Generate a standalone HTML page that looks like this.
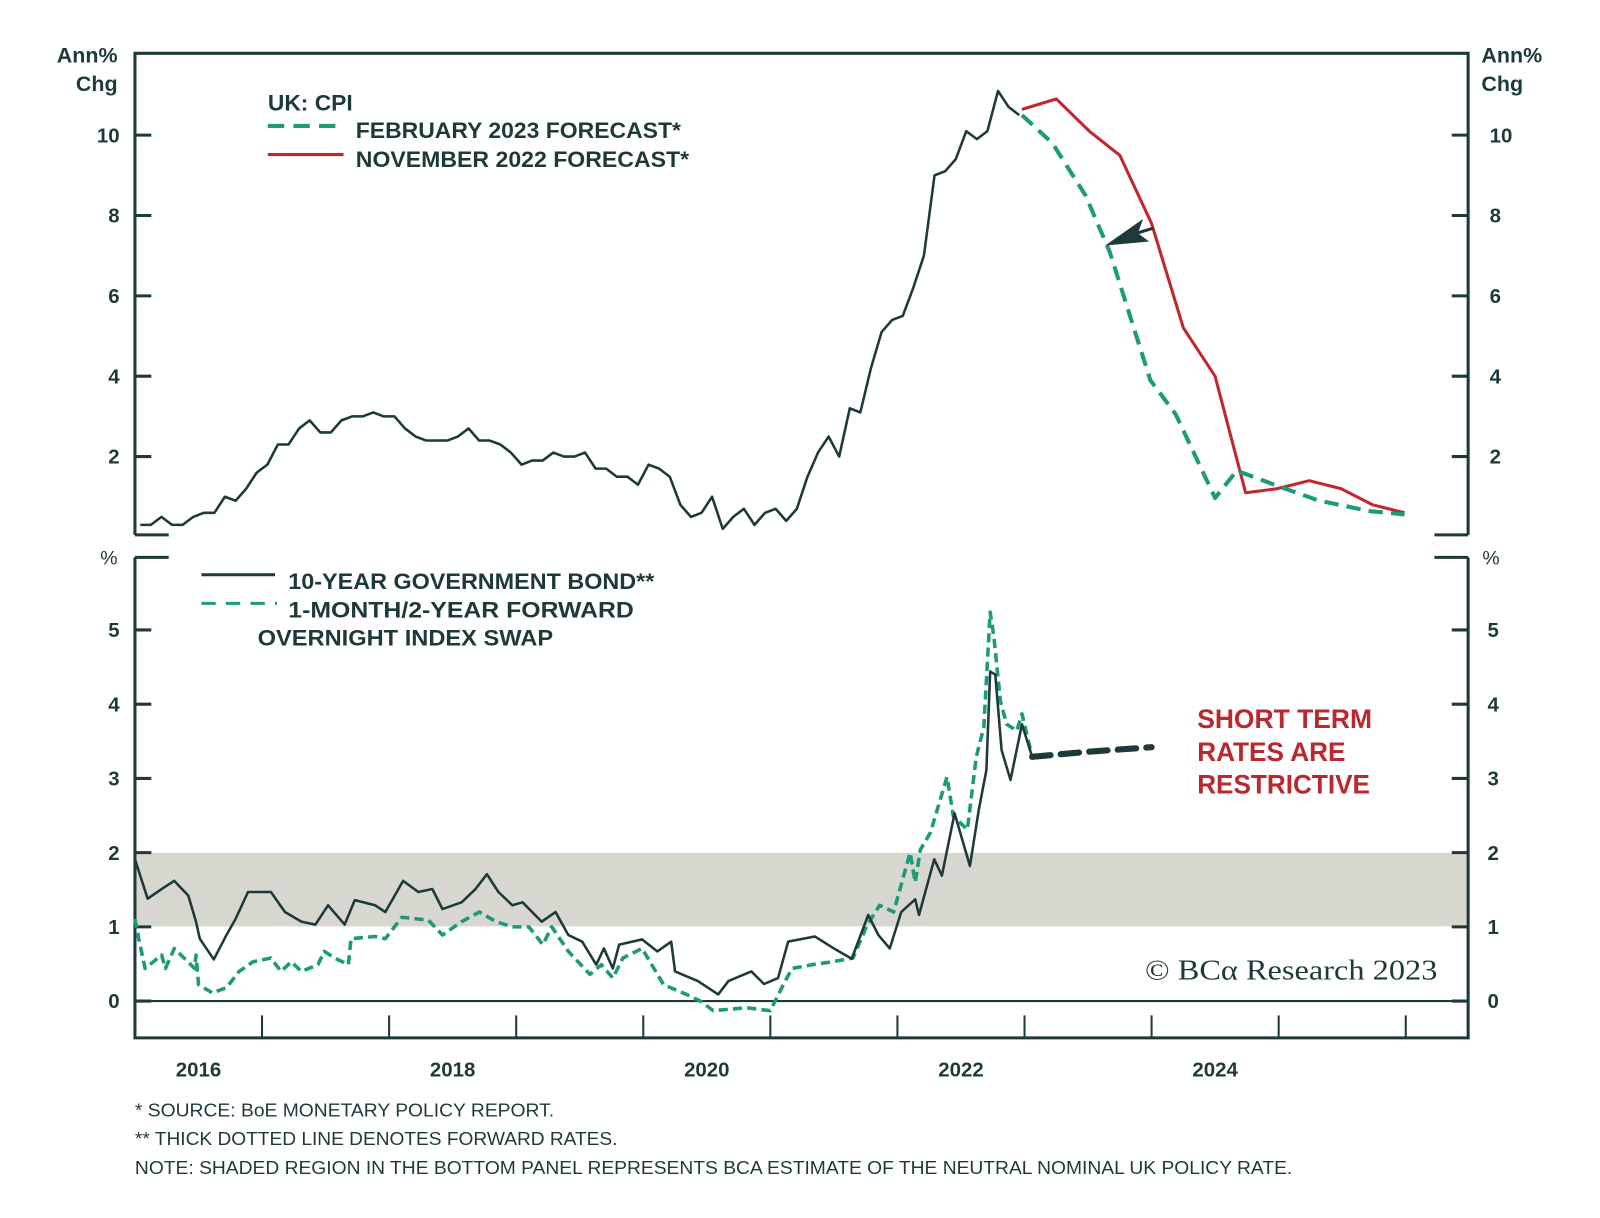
<!DOCTYPE html>
<html><head><meta charset="utf-8">
<style>
html,body{margin:0;padding:0;background:#fff;}
svg{display:block;}
text{font-family:"Liberation Sans",sans-serif;fill:#1d3a39;}
</style></head>
<body>
<svg id="chart" width="1600" height="1218" viewBox="0 0 1565 1191" xmlns="http://www.w3.org/2000/svg">
  <rect x="0" y="0" width="1565" height="1191" fill="#fff"/>
  <rect id="band" x="132" y="834" width="1304" height="72" fill="#d7d7d0"/>
  <g stroke="#1d3a39" stroke-width="3" fill="none">
    <path d="M132 523 V52 H1436 V523"/>
    <path d="M132 523 H165 M1403 523 H1436"/>
  </g>
  <g stroke="#1d3a39" stroke-width="3" fill="none">
    <path d="M132 545 V1015 H1436 V545"/>
    <path d="M132 545 H165 M1403 545 H1436"/>
  </g>
  <line x1="132" y1="979" x2="1436" y2="979" stroke="#1d3a39" stroke-width="2"/>
  <g id="topTicks"></g>
  <g id="botTicks"></g>
  <g id="yearTicks"></g>
  <g id="series"></g>

  <text x="115" y="61" text-anchor="end" font-size="21" font-weight="bold">Ann%</text>
  <text x="115" y="89" text-anchor="end" font-size="21" font-weight="bold">Chg</text>
  <text x="1449" y="61" font-size="21" font-weight="bold">Ann%</text>
  <text x="1449" y="89" font-size="21" font-weight="bold">Chg</text>
  <text x="115" y="552" text-anchor="end" font-size="19">%</text>
  <text x="1450" y="552" font-size="19">%</text>

  <g font-weight="bold">
    <text x="262" y="108" font-size="22" textLength="83" lengthAdjust="spacingAndGlyphs">UK: CPI</text>
    <line x1="262" y1="123" x2="336" y2="123" stroke="#1b9b78" stroke-width="4" stroke-dasharray="16,9"/>
    <text x="348" y="135" font-size="22" textLength="318" lengthAdjust="spacingAndGlyphs">FEBRUARY 2023 FORECAST*</text>
    <line x1="262" y1="151" x2="336" y2="151" stroke="#c0282e" stroke-width="3"/>
    <text x="348" y="163" font-size="22" textLength="326" lengthAdjust="spacingAndGlyphs">NOVEMBER 2022 FORECAST*</text>
  </g>
  <g font-weight="bold">
    <line x1="197" y1="562" x2="269" y2="562" stroke="#1d3a39" stroke-width="3"/>
    <text x="282" y="576" font-size="22" textLength="358" lengthAdjust="spacingAndGlyphs">10-YEAR GOVERNMENT BOND**</text>
    <line x1="197" y1="590" x2="271" y2="590" stroke="#1b9b78" stroke-width="3" stroke-dasharray="14,10"/>
    <text x="282" y="604" font-size="22" textLength="338" lengthAdjust="spacingAndGlyphs">1-MONTH/2-YEAR FORWARD</text>
    <text x="252" y="631" font-size="22" textLength="289" lengthAdjust="spacingAndGlyphs">OVERNIGHT INDEX SWAP</text>
  </g>

  <g font-size="26" font-weight="bold">
    <text x="1171" y="712" style="fill:#b8282e" textLength="171" lengthAdjust="spacingAndGlyphs">SHORT TERM</text>
    <text x="1171" y="744" style="fill:#b8282e" textLength="145" lengthAdjust="spacingAndGlyphs">RATES ARE</text>
    <text x="1171" y="776" style="fill:#b8282e" textLength="169" lengthAdjust="spacingAndGlyphs">RESTRICTIVE</text>
  </g>
  <text x="1120" y="958" font-size="28" style="font-family:'Liberation Serif',serif" textLength="286" lengthAdjust="spacingAndGlyphs">© BCα Research 2023</text>

  <g>
    <line x1="1128" y1="223" x2="1105" y2="230" stroke="#1d3a39" stroke-width="3"/>
    <polygon points="1081,240 1118,214 1113,228 1124,236" fill="#1d3a39"/>
  </g>

  <g id="yearLabels"></g>

  <g font-size="18">
    <text x="132" y="1092" textLength="410" lengthAdjust="spacingAndGlyphs">*  SOURCE: BoE MONETARY POLICY REPORT.</text>
    <text x="132" y="1120" textLength="472" lengthAdjust="spacingAndGlyphs">** THICK DOTTED LINE DENOTES FORWARD RATES.</text>
    <text x="132" y="1148" textLength="1132" lengthAdjust="spacingAndGlyphs">NOTE: SHADED REGION IN THE BOTTOM PANEL REPRESENTS BCA ESTIMATE OF THE NEUTRAL NOMINAL UK POLICY RATE.</text>
  </g>
</svg>
<script>
const cpiStart = 2016;
const cpiMonthly = [0.3,0.3,0.5,0.3,0.3,0.5,0.6,0.6,1.0,0.9,1.2,1.6,
  1.8,2.3,2.3,2.7,2.9,2.6,2.6,2.9,3.0,3.0,3.1,3.0,
  3.0,2.7,2.5,2.4,2.4,2.4,2.5,2.7,2.4,2.4,2.3,2.1,
  1.8,1.9,1.9,2.1,2.0,2.0,2.1,1.7,1.7,1.5,1.5,1.3,
  1.8,1.7,1.5,0.8,0.5,0.6,1.0,0.2,0.5,0.7,0.3,0.6,
  0.7,0.4,0.7,1.5,2.1,2.5,2.0,3.2,3.1,4.2,5.1,5.4,
  5.5,6.2,7.0,9.0,9.1,9.4,10.1,9.9,10.1,11.1,10.7,10.5];
const febDates = [2022.98,2023.22,2023.48,2023.67,2023.83,2023.99,2024.19,2024.5,2024.67,2024.99,2025.32,2025.72,2025.99];
const febValues = [10.5,9.8,8.5,7.1,5.5,3.9,3.05,0.97,1.65,1.27,0.9,0.64,0.56];
const novDates = [2022.98,2023.25,2023.51,2023.75,2024.0,2024.25,2024.5,2024.74,2024.99,2025.24,2025.49,2025.74,2025.99];
const novValues = [10.64,10.9,10.1,9.5,7.8,5.2,4.0,1.1,1.2,1.4,1.2,0.8,0.6];
const bondDates = [2016.0,2016.1,2016.21,2016.31,2016.42,2016.48,2016.51,2016.62,2016.72,2016.79,2016.89,2017.07,2017.18,2017.31,2017.42,2017.52,2017.65,2017.73,2017.89,2017.97,2018.11,2018.23,2018.34,2018.42,2018.57,2018.68,2018.77,2018.86,2018.97,2019.05,2019.2,2019.31,2019.41,2019.52,2019.63,2019.69,2019.76,2019.81,2019.99,2020.11,2020.22,2020.25,2020.43,2020.59,2020.67,2020.85,2020.95,2021.06,2021.14,2021.35,2021.5,2021.64,2021.77,2021.85,2021.94,2022.03,2022.14,2022.17,2022.29,2022.35,2022.45,2022.57,2022.64,2022.7,2022.73,2022.77,2022.82,2022.89,2022.98,2023.06];
const bondValues = [1.91,1.38,1.51,1.62,1.42,1.07,0.84,0.56,0.89,1.1,1.47,1.47,1.2,1.07,1.03,1.29,1.03,1.36,1.29,1.2,1.62,1.47,1.51,1.24,1.33,1.51,1.71,1.47,1.29,1.33,1.07,1.2,0.89,0.8,0.49,0.71,0.44,0.76,0.83,0.67,0.8,0.4,0.27,0.09,0.27,0.4,0.23,0.31,0.8,0.87,0.71,0.57,1.16,0.89,0.71,1.2,1.37,1.16,1.91,1.69,2.53,1.82,2.58,3.11,4.44,4.4,3.38,2.98,3.73,3.29];
const bondFwdDates = [2023.06,2023.5,2024.0];
const bondFwdValues = [3.29,3.36,3.42];
const oisDates = [2016.0,2016.03,2016.08,2016.21,2016.24,2016.31,2016.47,2016.48,2016.5,2016.61,2016.72,2016.82,2016.93,2017.07,2017.15,2017.23,2017.31,2017.44,2017.49,2017.57,2017.68,2017.7,2017.89,2017.97,2018.1,2018.31,2018.42,2018.57,2018.71,2018.84,2018.97,2019.1,2019.21,2019.28,2019.41,2019.58,2019.67,2019.76,2019.84,2019.99,2020.16,2020.34,2020.45,2020.55,2020.81,2021.0,2021.09,2021.17,2021.33,2021.49,2021.65,2021.76,2021.86,2021.97,2022.1,2022.14,2022.18,2022.26,2022.39,2022.44,2022.55,2022.62,2022.68,2022.73,2022.76,2022.81,2022.86,2022.94,2022.98,2023.06];
const oisValues = [1.11,0.84,0.44,0.62,0.44,0.71,0.44,0.62,0.22,0.11,0.18,0.4,0.53,0.58,0.4,0.53,0.4,0.49,0.67,0.58,0.49,0.84,0.87,0.84,1.13,1.09,0.89,1.07,1.2,1.07,1.0,1.0,0.76,1.0,0.67,0.36,0.49,0.31,0.58,0.71,0.22,0.09,0.0,-0.13,-0.09,-0.13,0.18,0.44,0.49,0.53,0.58,1.02,1.29,1.2,2.0,1.6,2.04,2.27,3.02,2.49,2.31,3.29,3.69,5.24,4.89,4.04,3.73,3.64,3.87,3.29];
const topTickValues = [2,4,6,8,10];
const botTickValues = [0,1,2,3,4,5];
const yearTickYears = [2017,2018,2019,2020,2021,2022,2023,2024,2025,2026];
const yearLabels = ["2016","2018","2020","2022","2024"];

const X = t => 132 + (t - 2016) * 124.3;
const YT = v => 525 - 39.3 * v;
const YB = v => 979 - 72.6 * v;
const NS = "http://www.w3.org/2000/svg";
function mk(tag, attrs, parent){const e=document.createElementNS(NS,tag);for(const k in attrs)e.setAttribute(k,attrs[k]);parent.appendChild(e);return e;}
const gTT=document.getElementById('topTicks'), gBT=document.getElementById('botTicks'), gYT=document.getElementById('yearTicks'), gS=document.getElementById('series'), gYL=document.getElementById('yearLabels');

topTickValues.forEach(v=>{
  const y=YT(v);
  const l=mk('path',{d:`M132 ${y} H148 M1420 ${y} H1436`,stroke:'#1d3a39','stroke-width':3},gTT);
  
  
  const a=mk('text',{x:117,y:y+7,'text-anchor':'end','font-size':20,'font-weight':'bold'},gTT); a.textContent=v;
  
  
  const b=mk('text',{x:1457,y:y+7,'font-size':20,'font-weight':'bold'},gTT); b.textContent=v;
  
  
});
botTickValues.forEach(v=>{
  const y=YB(v);
  const l=mk('path',{d:`M132 ${y} H148 M1420 ${y} H1436`,stroke:'#1d3a39','stroke-width':3},gBT);
  
  
  const a=mk('text',{x:117,y:y+7,'text-anchor':'end','font-size':20,'font-weight':'bold'},gBT); a.textContent=v;
  
  
  const b=mk('text',{x:1455,y:y+7,'font-size':20,'font-weight':'bold'},gBT); b.textContent=v;
  
  
});
yearTickYears.forEach(yr=>{
  const x=X(yr);
  const l=mk('line',{x1:x,y1:993,x2:x,y2:1015,stroke:'#1d3a39','stroke-width':2},gYT);
  
  
});
yearLabels.forEach(s=>{
  const t=mk('text',{x:X(+s+0.5),y:1053,'text-anchor':'middle','font-size':20,'font-weight':'bold'},gYL); t.textContent=s;
  
  
});

function line(xs, ys, yf, attrs, name){
  const d = xs.map((t,i)=>(i?'L':'M')+X(t).toFixed(1)+' '+yf(ys[i]).toFixed(1)).join(' ');
  const p = mk('path',Object.assign({d:d,fill:'none','stroke-linejoin':'round'},attrs),gS);
  
  
  return p;
}
const cpiDates = cpiMonthly.map((v,i)=>cpiStart + (i+0.5)/12);
line(cpiDates, cpiMonthly, YT, {stroke:'#1d3a39','stroke-width':2.5}, 'cpi-actual-line');
line(novDates, novValues, YT, {stroke:'#c0282e','stroke-width':3}, 'nov-2022-forecast-line');
line(febDates, febValues, YT, {stroke:'#1b9b78','stroke-width':4,'stroke-dasharray':'14,8'}, 'feb-2023-forecast-line');
line(oisDates, oisValues, YB, {stroke:'#1b9b78','stroke-width':3.5,'stroke-dasharray':'9,5'}, 'ois-forward-line');
line(bondDates, bondValues, YB, {stroke:'#1d3a39','stroke-width':2.5}, 'bond-10y-line');
line(bondFwdDates, bondFwdValues, YB, {stroke:'#1d3a39','stroke-width':6,'stroke-dasharray':'18,10','stroke-linecap':'round'}, 'bond-forward-line');
</script>
</body></html>
